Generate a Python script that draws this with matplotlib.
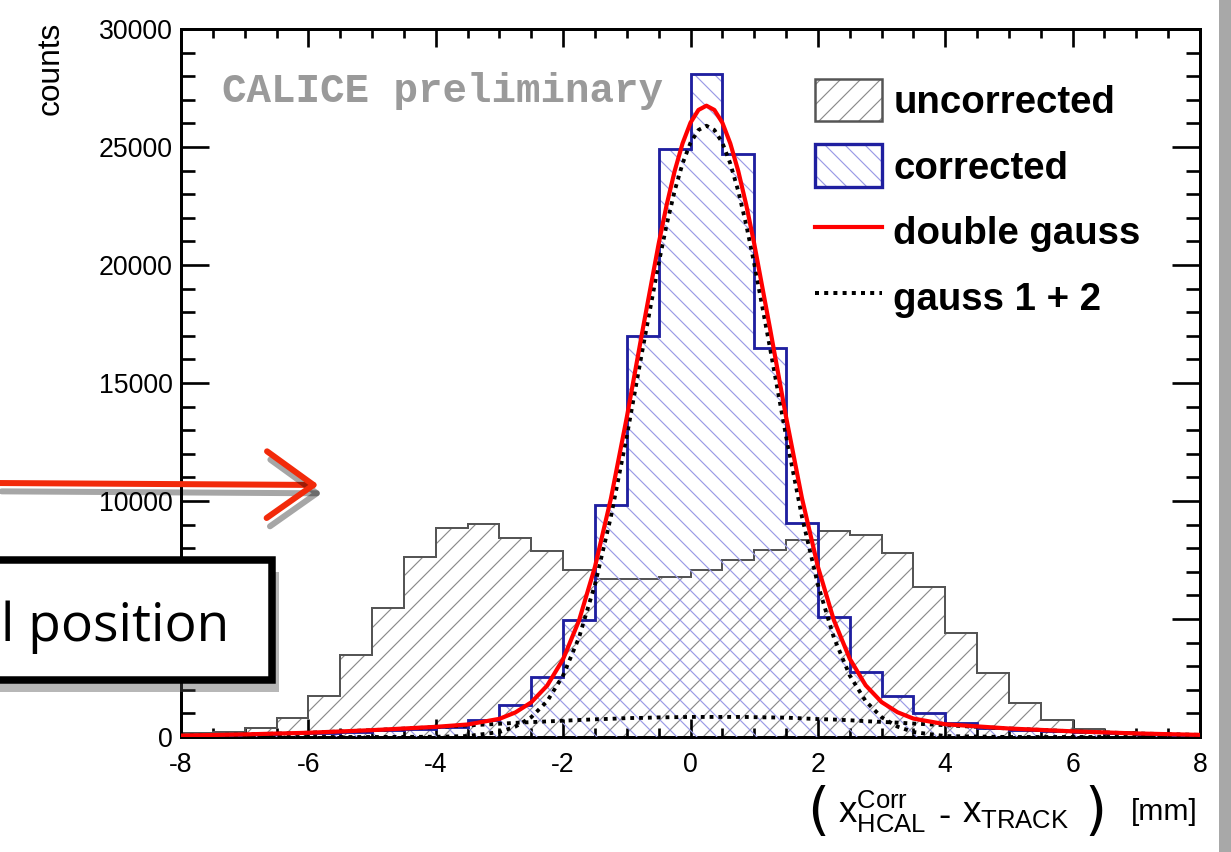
import matplotlib
matplotlib.use("Agg")
import numpy as np
import matplotlib.pyplot as plt
import matplotlib.patheffects as pe
from matplotlib.patches import Patch, Rectangle, FancyArrowPatch
from matplotlib.lines import Line2D
from matplotlib.ticker import MultipleLocator

plt.rcParams['font.family'] = ['Liberation Sans', 'DejaVu Sans']
plt.rcParams['mathtext.fontset'] = 'custom'
plt.rcParams['mathtext.rm'] = 'Liberation Sans'
plt.rcParams['mathtext.it'] = 'Liberation Sans'
plt.rcParams['axes.unicode_minus'] = False
plt.rcParams['hatch.linewidth'] = 0.7

# histogram bins: 0.5 mm wide from -8 to 8
edges = np.arange(-8, 8.01, 0.5)

uncorrected = [150, 220, 370, 820, 1740, 3470, 5480, 7610,
               8840, 9010, 8420, 7900, 7080, 6680, 6680, 6770,
               7080, 7500, 7920, 8350, 8740, 8560, 7780, 6340,
               4390, 2730, 1450, 720, 330, 200, 120, 80]

corrected = [80, 100, 120, 150, 180, 220, 280, 350,
             440, 720, 1360, 2560, 4960, 9830, 17000, 24900,
             28100, 24700, 16500, 9080, 5100, 2770, 1740, 1000,
             580, 380, 300, 250, 200, 150, 120, 100]

# fit curves
fit_x = [-8, -7, -6, -5, -4, -3.5, -3, -2.75, -2.5, -2.25, -2, -1.75, -1.5,
         -1.25, -1, -0.75, -0.5, -0.375, -0.25, -0.125, 0, 0.125, 0.25,
         0.375, 0.5, 0.625, 0.75, 0.875, 1, 1.25, 1.5,
         1.75, 2, 2.25, 2.5, 2.75, 3, 3.25, 3.5, 4, 5, 6, 7, 8]
double_gauss = [60, 110, 180, 290, 430, 530, 770, 1040, 1470, 2180, 3300,
                4940, 7210, 10100, 13550, 17270, 20900, 22540, 23970, 25150,
                26030, 26570, 26750, 26570, 26030, 25150, 23980, 22550, 20910,
                17290, 13570, 10120, 7220, 4960, 3320,
                2190, 1480, 1050, 780, 540, 360, 240, 150, 90]
gauss1 = [0, 0, 0, 0, 10, 40, 210, 440, 840, 1520, 2610, 4220, 6460, 9330,
          12750, 16460, 20070, 21700, 23130, 24300, 25180, 25720, 25900,
          25720, 25180, 24300, 23130, 21700, 20070,
          16460, 12750, 9330, 6460, 4220, 2610, 1520, 840, 440, 210, 40,
          0, 0, 0, 0]
gauss2 = [60, 110, 180, 290, 420, 490, 560, 600, 630, 660, 690, 720, 750,
          770, 800, 810, 830, 835, 840, 845, 850, 850, 850, 850, 850, 850,
          850, 848, 840, 830, 820, 790,
          760, 740, 710, 670, 640, 610, 570, 500, 360, 240, 150, 90]

y_ticks = [0, 5000, 10000, 15000, 20000, 25000, 30000]
# the 5000 label is hidden under the caption box in the original
y_tick_labels = ['0', '', '10000', '15000', '20000', '25000', '30000']

gray_line = '#555555'
gray_hatch = '#8a8a8a'
blue_line = '#1f1fa0'
blue_hatch = '#9a9ae6'

fig = plt.figure(figsize=(1231 / 120, 852 / 120), dpi=120)
ax = fig.add_axes([181 / 1231, 115 / 852, 1019 / 1231, 708 / 852])

# uncorrected: hatched fill + outline
ax.stairs(uncorrected, edges, fill=True, facecolor='none', edgecolor=gray_hatch,
          hatch='//', linewidth=0, zorder=1)
ax.stairs(uncorrected, edges, color=gray_line, linewidth=1.2, zorder=2)

# corrected: hatched fill + outline
ax.stairs(corrected, edges, fill=True, facecolor='none', edgecolor=blue_hatch,
          hatch='\\\\', linewidth=0, zorder=3)
ax.stairs(corrected, edges, color=blue_line, linewidth=1.7, zorder=4)

ax.plot(fit_x, gauss2, color='black', lw=2.3, ls=(0, (1, 1.3)), zorder=5)
ax.plot(fit_x, gauss1, color='black', lw=2.3, ls=(0, (1, 1.3)), zorder=5)
ax.plot(fit_x, double_gauss, color='red', lw=2.5, zorder=6)

ax.set_xlim(-8, 8)
ax.set_ylim(0, 30000)
ax.xaxis.set_major_locator(MultipleLocator(2))
ax.xaxis.set_minor_locator(MultipleLocator(0.5))
ax.set_yticks(y_ticks)
ax.set_yticklabels(y_tick_labels)
ax.yaxis.set_minor_locator(MultipleLocator(1000))
ax.tick_params(which='both', direction='in', top=True, right=True, width=1.6,
               labelsize=16, colors='black')
ax.tick_params(axis='x', which='major', length=11, pad=9)
ax.tick_params(axis='x', which='minor', length=5.5)
ax.tick_params(axis='y', which='major', length=17, pad=5)
ax.tick_params(axis='y', which='minor', length=8.5)
for s in ax.spines.values():
    s.set_linewidth(1.8)

fig.text(51 / 1231, 1 - 22 / 852, 'counts', rotation=90, ha='center', va='top',
         fontsize=19)

# x axis title: tall parentheses around the math part, then the unit
xl_y = 1 - 812 / 852
paren_font = dict(family=['DejaVu Sans'], weight='normal', fontsize=34,
                  ha='center', va='center')
fig.text(818 / 1231, xl_y, '(', **paren_font)
fig.text(838 / 1231, xl_y, r'$\mathrm{x}^{\mathrm{Corr}}_{\mathrm{HCAL}}$',
         ha='left', va='center', fontsize=22)
fig.text(944 / 1231, xl_y - 4 / 852, '-', ha='center', va='center', fontsize=22)
fig.text(962 / 1231, xl_y, r'$\mathrm{x}_{\mathrm{TRACK}}$',
         ha='left', va='center', fontsize=22)
fig.text(1095 / 1231, xl_y, ')', **paren_font)
fig.text(1198 / 1231, xl_y, '[mm]', ha='right', va='center', fontsize=18)

fig.text(222 / 1231, 1 - 91 / 852, 'CALICE preliminary', family='Liberation Mono',
         weight='bold', color='#9a9a9a', fontsize=24.5, va='center')

handles = [
    (Patch(facecolor='white', edgecolor=gray_hatch, hatch='//', lw=0),
     Patch(facecolor='none', edgecolor=gray_line, lw=1.5)),
    (Patch(facecolor='white', edgecolor=blue_hatch, hatch='\\\\', lw=0),
     Patch(facecolor='none', edgecolor=blue_line, lw=2)),
    Line2D([], [], color='red', lw=2.5),
    Line2D([], [], color='black', lw=2.4, ls=(0, (1, 1.3))),
]
labels = ['uncorrected', 'corrected', 'double gauss', 'gauss 1 + 2']
ax.legend(handles, labels, loc='upper left', bbox_to_anchor=(0.622, 0.93),
          frameon=False, prop={'size': 23, 'weight': 'bold'},
          handlelength=1.75, handleheight=1.34, labelspacing=0.6,
          handletextpad=0.3, borderpad=0, borderaxespad=0)

# slide overlay: red arrow and caption box
arrow = FancyArrowPatch((-5 / 1231, 1 - 483 / 852), (322 / 1231, 1 - 485 / 852),
                        transform=fig.transFigure,
                        arrowstyle='->,head_length=1.4,head_width=1.0',
                        mutation_scale=20, color='#f22a0a', lw=3.6,
                        path_effects=[pe.SimpleLineShadow(offset=(2, -5), alpha=0.35),
                                      pe.Normal()])
fig.add_artist(arrow)

box = Rectangle((-10 / 1231, 1 - 680 / 852), 282 / 1231, 120 / 852,
                transform=fig.transFigure, facecolor='white', edgecolor='black',
                lw=4.5, zorder=10,
                path_effects=[pe.SimplePatchShadow(offset=(4, -7), alpha=0.4),
                              pe.Normal()])
fig.add_artist(box)
fig.text(229 / 1231, 1 - 641 / 852, 'l position', ha='right', va='baseline',
         family='Open Sans', fontsize=32, zorder=11)

fig.add_artist(Rectangle((1219 / 1231, 0), 12 / 1231, 1, transform=fig.transFigure,
                         facecolor='#a8a8a8', edgecolor='none'))

fig.savefig('out.png', dpi=120)
